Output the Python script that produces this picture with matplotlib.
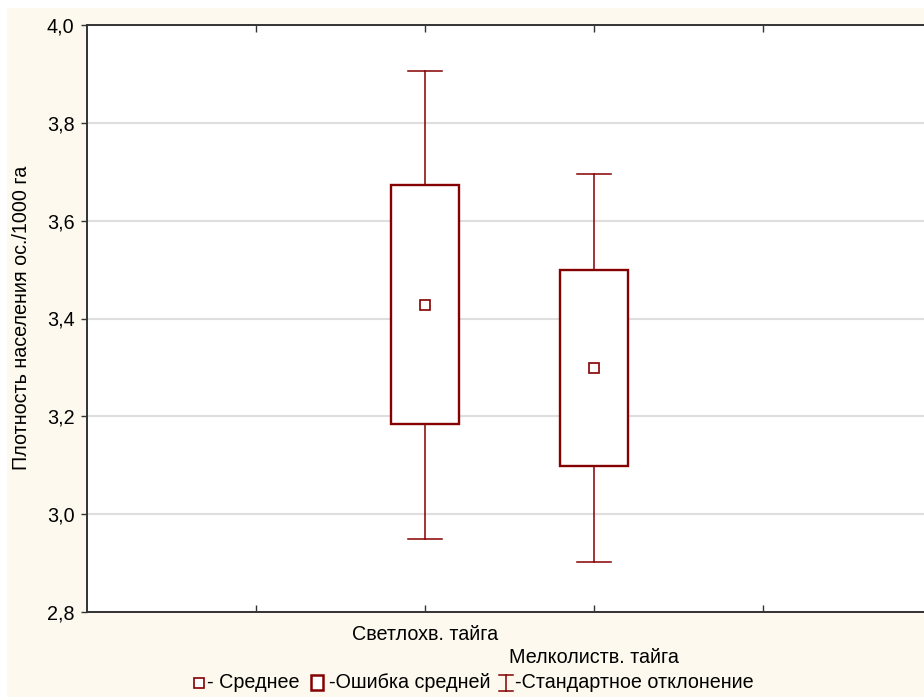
import matplotlib
matplotlib.use("Agg")
import matplotlib.pyplot as plt
from matplotlib.lines import Line2D
from matplotlib.patches import Rectangle

plt.rcParams["font.family"] = ["Liberation Sans", "DejaVu Sans"]

# group means, standard errors and standard deviations
categories = ["Светлохв. тайга", "Мелколиств. тайга"]
positions = [2, 3]
means = [3.428, 3.299]
std_err = [0.244, 0.200]
std_dev = [0.478, 0.396]

y_ticks = [2.8, 3.0, 3.2, 3.4, 3.6, 3.8, 4.0]
y_label = "Плотность населения ос./1000 га"
legend_items = ["- Среднее", "-Ошибка средней", "-Стандартное отклонение"]

W, H = 924, 697
BG = "#fdf9ee"
RED = "#850000"
GRID = "#dedede"
FRAME = "#333333"
FS = 14.2


def fx(px):
    return px / W


def fy(py):
    return 1 - py / H


fig = plt.figure(figsize=(W / 100, H / 100), dpi=100)
fig.set_facecolor("white")
# cream panel with a thin white margin on the left and top
fig.add_artist(Rectangle((fx(7), 0), 1, fy(8), facecolor=BG, edgecolor="none",
                         transform=fig.transFigure, zorder=-10))

ax = fig.add_axes([fx(87), fy(612), fx(932 - 87), (612 - 25) / H])
ax.set_facecolor("white")

box_w = 0.4
cap_w = 0.2
for x, m, se, sd in zip(positions, means, std_err, std_dev):
    # whiskers (mean +- SD) with caps
    ax.plot([x, x], [m + se, m + sd], color=RED, lw=1.1, zorder=3)
    ax.plot([x, x], [m - sd, m - se], color=RED, lw=1.1, zorder=3)
    for yv in (m + sd, m - sd):
        ax.plot([x - cap_w / 2, x + cap_w / 2], [yv, yv], color=RED, lw=1.1, zorder=3)
    # box (mean +- SE)
    ax.add_patch(Rectangle((x - box_w / 2, m - se), box_w, 2 * se,
                           facecolor="white", edgecolor=RED, lw=1.7, zorder=4))
    ax.plot([x], [m], marker="s", ms=7.5, mfc="white", mec=RED, mew=1.2, zorder=5)

ax.set_xlim(0, 5)
ax.set_ylim(2.8, 4.0)
ax.set_yticks(y_ticks)
ax.set_yticklabels([f"{v:.1f}".replace(".", ",") for v in y_ticks], fontsize=FS)
ax.set_xticks([1, 2, 3, 4])
ax.set_xticklabels([])
ax.tick_params(axis="x", direction="in", length=5, width=1, top=True, color=FRAME)
ax.tick_params(axis="y", direction="out", length=4, width=1, color=FRAME, pad=5)
ax.yaxis.grid(True, color=GRID, lw=1.5)
ax.set_axisbelow(True)
for side in ("left", "top", "bottom", "right"):
    ax.spines[side].set_color(FRAME)
    ax.spines[side].set_linewidth(1.4)

# staggered category labels under the axis
for i, (x, name) in enumerate(zip(positions, categories)):
    ax.annotate(name, xy=(x, 0), xycoords=("data", "axes fraction"),
                xytext=(0, -13 - 23 * i), textcoords="offset pixels",
                ha="center", va="top", fontsize=FS)

fig.text(fx(22), fy(318), y_label, rotation=90, ha="center", va="center", fontsize=FS)

# legend row drawn by hand
ly = fy(683)
fig.add_artist(Line2D([fx(198.5)], [ly], marker="s", ms=6.5, mfc="white", mec=RED,
                      mew=1.2, transform=fig.transFigure))
fig.text(fx(207), ly, legend_items[0], ha="left", va="center", fontsize=FS)
fig.add_artist(Rectangle((fx(311), fy(690)), fx(12), (690 - 675) / H, facecolor="white",
                         edgecolor=RED, lw=1.8, transform=fig.transFigure))
fig.text(fx(329), ly, legend_items[1], ha="left", va="center", fontsize=FS)
for seg in ([(499, 675), (513, 675)], [(499, 691), (513, 691)], [(506, 675), (506, 691)]):
    (x0, y0), (x1, y1) = seg
    fig.add_artist(Line2D([fx(x0), fx(x1)], [fy(y0), fy(y1)], color=RED, lw=1.1,
                          transform=fig.transFigure))
fig.text(fx(515), ly, legend_items[2], ha="left", va="center", fontsize=FS)

fig.savefig("out.png", dpi=100, facecolor="white")
